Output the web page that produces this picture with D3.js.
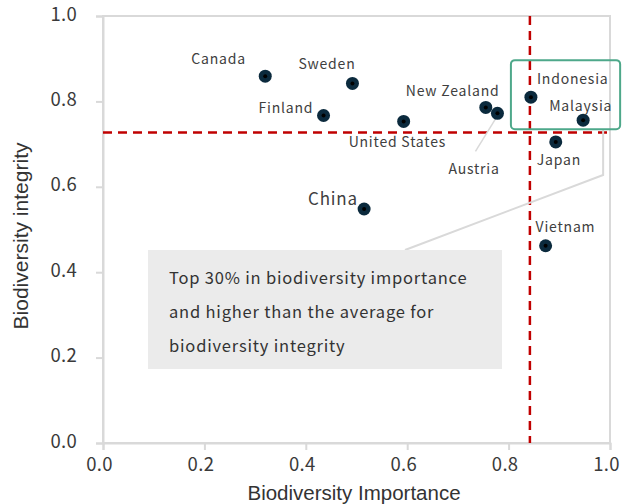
<!DOCTYPE html>
<html><head><meta charset="utf-8">
<script src="https://cdn.jsdelivr.net/npm/d3@7"></script>
<style>
html,body{margin:0;padding:0;background:#fff;}
svg{display:block;}
</style></head>
<body>
<svg id="c" width="622" height="504"></svg>
<script>
const countries = ["Canada","Sweden","Finland","United States","New Zealand","Austria","Indonesia","Malaysia","Japan","China","Vietnam"];
const importance = [0.32,0.492,0.435,0.593,0.755,0.778,0.844,0.947,0.893,0.515,0.873];
const integrity  = [0.859,0.842,0.767,0.753,0.786,0.772,0.810,0.756,0.705,0.548,0.462];
const xTicks = [0,0.2,0.4,0.6,0.8,1.0];
const yTicks = [0,0.2,0.4,0.6,0.8,1.0];
const thresholdX = 0.842;
const thresholdY = 0.727;
const noteLines = ["Top 30% in biodiversity importance","and higher than the average for","biodiversity integrity"];
const xTitle = "Biodiversity Importance";
const yTitle = "Biodiversity integrity";

// label offsets (pixels) relative to point
const labelOffsets = [[-74,-12],[-54,-14],[-65,-2],[-55,26],[-80,-11],[-49,61],[6,-13],[-34,-9],[-19,23],[-56,-4],[-10,-14]];
const labelSizes = [14,14,14,14,14,14,14,14,14,17,14];

const svg = d3.select("#c");
const m = {l:103,r:610,t:16,b:443};
const x = d3.scaleLinear().domain([0,1]).range([m.l,m.r]);
const y = d3.scaleLinear().domain([0,1]).range([m.b,m.t]);
const grey = "#d9d9d9";
const tickFont = "'Noto Sans CJK JP','Noto Sans',sans-serif";

// frame
svg.append("rect").attr("x",m.l).attr("y",m.t).attr("width",m.r-m.l).attr("height",m.b-m.t)
  .attr("fill","none").attr("stroke",grey).attr("stroke-width",2);

// axes
const xAxis = d3.axisBottom(x).tickValues(xTicks).tickFormat(d3.format(".1f")).tickSize(7).tickPadding(4);
const gx = svg.append("g").attr("transform",`translate(0,${m.b})`).call(xAxis);
const yAxis = d3.axisLeft(y).tickValues(yTicks).tickFormat(d3.format(".1f")).tickSize(7).tickPadding(19);
const gy = svg.append("g").attr("transform",`translate(${m.l},0)`).call(yAxis);
[gx,gy].forEach(g=>{
  g.select(".domain").attr("stroke",grey).attr("stroke-width",2);
  g.selectAll(".tick line").attr("stroke",grey).attr("stroke-width",2);
  g.selectAll(".tick text").attr("font-family",tickFont).attr("font-size",18.5)
   .attr("fill","#3a3a3a").attr("letter-spacing","0.3px");
});
gx.selectAll(".tick text").attr("dy","0.9em").attr("dx",-4);
gy.selectAll(".tick text").attr("dy","0.22em");

// threshold lines
svg.append("line").attr("x1",x(thresholdX)).attr("x2",x(thresholdX)).attr("y1",m.t).attr("y2",m.b)
  .attr("stroke","#c00000").attr("stroke-width",2.5).attr("stroke-dasharray","9,6");
svg.append("line").attr("x1",m.l).attr("x2",m.r).attr("y1",y(thresholdY)).attr("y2",y(thresholdY))
  .attr("stroke","#c00000").attr("stroke-width",2.5).attr("stroke-dasharray","9,6");

// highlight box (around Indonesia / Malaysia)
const hi = [6,7];
const hx0 = x(d3.min(hi,i=>importance[i])) - 20, hx1 = x(d3.max(hi,i=>importance[i])) + 37;
const hy0 = y(d3.max(hi,i=>integrity[i])) - 37, hy1 = y(d3.min(hi,i=>integrity[i])) + 9;

// callout connector
const note = {x0:148,x1:502,y0:250,y1:369};
svg.append("polyline")
  .attr("points",[[hx1-17,hy1],[hx1-17,175],[note.x0+257,note.y0]].map(p=>p.join(",")).join(" "))
  .attr("fill","none").attr("stroke",grey).attr("stroke-width",2);

svg.append("rect").attr("x",hx0).attr("y",hy0).attr("width",hx1-hx0).attr("height",hy1-hy0)
  .attr("rx",4).attr("fill","none").attr("stroke","#4ea88a").attr("stroke-width",2);

// note box
svg.append("rect").attr("x",note.x0).attr("y",note.y0).attr("width",note.x1-note.x0).attr("height",note.y1-note.y0)
  .attr("fill","#ebebeb");
svg.append("g").selectAll("text").data(noteLines).join("text")
  .attr("x",note.x0+21).attr("y",(d,i)=>284+i*34)
  .attr("font-family",tickFont).attr("font-size",16.5).attr("letter-spacing","0.8px").attr("fill","#333")
  .text(d=>d);

// Austria leader
const ai = 5;
svg.append("line").attr("x1",x(importance[ai])-1).attr("y1",y(integrity[ai])+4)
  .attr("x2",x(importance[ai])-22).attr("y2",y(integrity[ai])+38)
  .attr("stroke",grey).attr("stroke-width",1.5);

// points
const pts = svg.append("g").selectAll("g").data(countries).join("g")
  .attr("transform",(d,i)=>`translate(${x(importance[i])},${y(integrity[i])})`);
pts.append("circle").attr("r",6.5).attr("fill","#0b2a3d");
pts.append("circle").attr("r",2).attr("fill","#000");

// labels
svg.append("g").selectAll("text").data(countries).join("text")
  .attr("x",(d,i)=>x(importance[i])+labelOffsets[i][0])
  .attr("y",(d,i)=>y(integrity[i])+labelOffsets[i][1])
  .attr("font-family",tickFont).attr("font-size",(d,i)=>labelSizes[i]).attr("letter-spacing","0.8px")
  .attr("fill","#404040").text(d=>d);

// axis titles
svg.append("text").attr("x",354).attr("y",500).attr("text-anchor","middle")
  .attr("font-family","'Liberation Sans',Arial,sans-serif").attr("font-size",20.5).attr("fill","#333").text(xTitle);
svg.append("text").attr("transform","translate(28,236) rotate(-90)").attr("text-anchor","middle")
  .attr("font-family","'Liberation Sans',Arial,sans-serif").attr("font-size",21).attr("fill","#333")
  .attr("textLength",187).attr("lengthAdjust","spacingAndGlyphs").text(yTitle);
</script>
</body></html>
